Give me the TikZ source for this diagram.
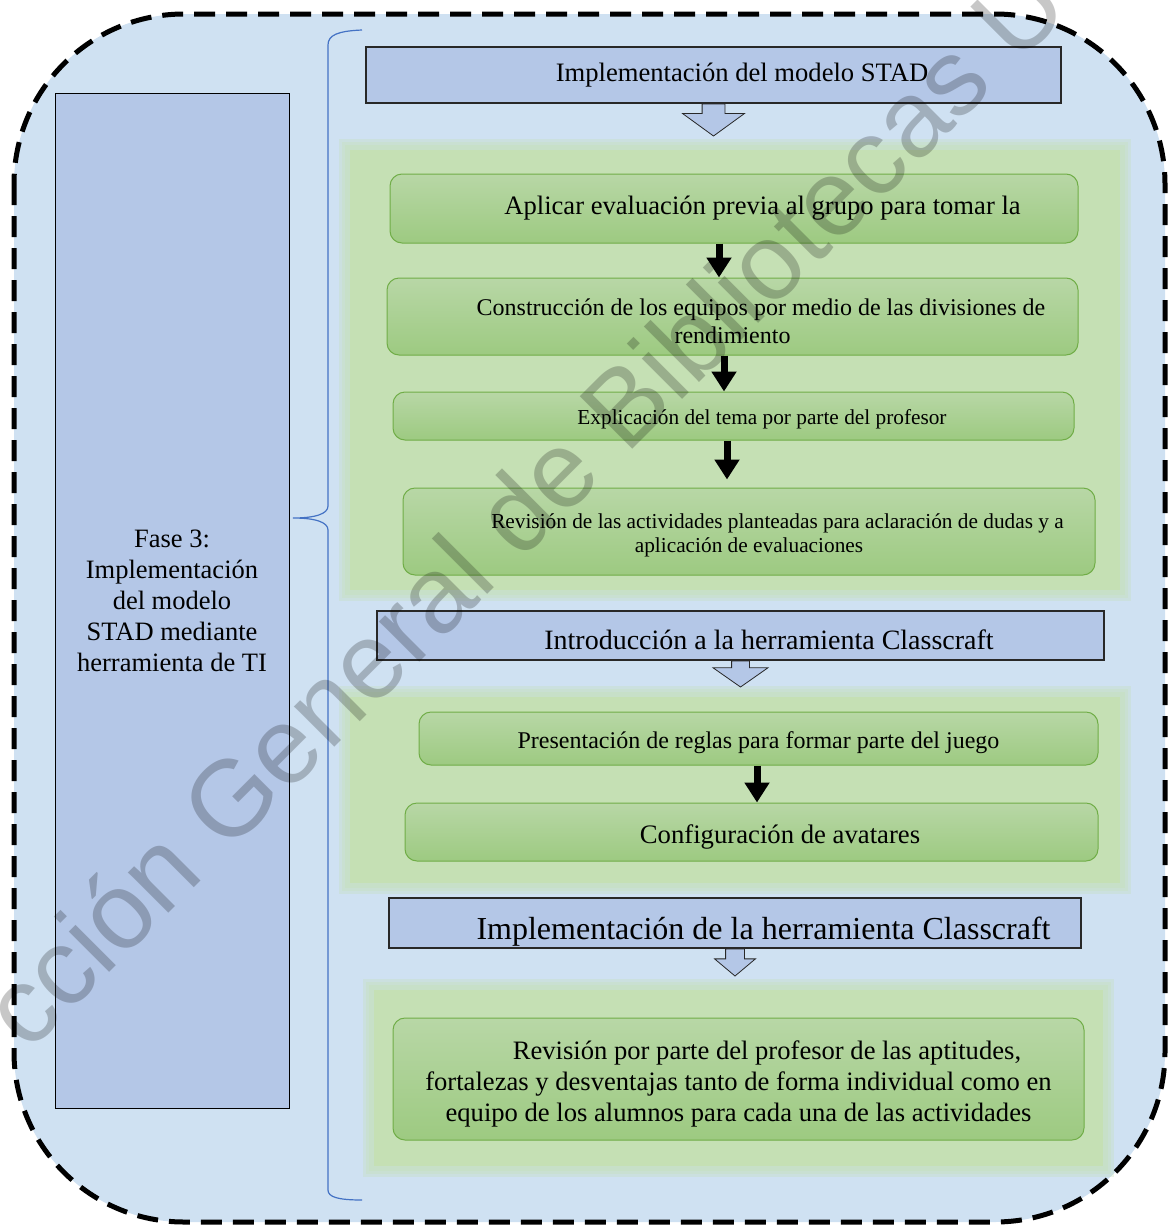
\documentclass[tikz,border=0pt]{standalone}
\usepackage{fontspec}
\setmainfont{Liberation Serif}
\newfontfamily\wmfont{Liberation Sans}
\usetikzlibrary{shapes}
\usetikzlibrary{positioning}
\usetikzlibrary{arrows.meta}
\definecolor{bgblue}{RGB}{207,225,242}
\definecolor{hdrblue}{RGB}{180,199,231}
\definecolor{hdrline}{RGB}{40,40,40}
\definecolor{panelgreen}{RGB}{197,224,180}
\definecolor{greentop}{RGB}{184,215,166}
\definecolor{greenbot}{RGB}{157,202,129}
\definecolor{greenline}{RGB}{112,173,71}
\definecolor{braceblue}{RGB}{68,114,196}
\newcommand{\firstind}{\hspace*{57pt}}
\newcommand{\sink}[1]{\rule{0pt}{#1em}}
\tikzset{
    mynodeb/.style = {rectangle, draw=hdrline, line width=1.2pt, fill=hdrblue, align=center, inner sep=0pt, text=black},
    mynodef/.style = {rectangle, draw=black, line width=0.8pt, fill=hdrblue, align=center, inner sep=0pt, text=black},
    mynodeg/.style = {rectangle, rounded corners=12pt, draw=greenline, line width=1pt, top color=greentop, bottom color=greenbot, align=center, inner sep=0pt, text=black},
    arrowb/.style = {single arrow, rotate=-90, draw=hdrline, line width=0.8pt, fill=hdrblue, inner xsep=0pt, single arrow head indent=0pt, anchor=tail},
    edgek/.style = {-{Triangle[width=24pt,length=20pt]}, line width=7pt, black},
    wallb/.style = {line width=5pt, dash pattern=on 21pt off 11pt, fill=bgblue, rounded corners=170pt},
    braceb/.style = {line width=1.2pt, braceblue},
    fsz/.style args = {#1/#2}{font=\fontsize{#1}{#2}\selectfont}
}

\begin{document}
\begin{tikzpicture}[x=1pt, y=-1pt]
  \useasboundingbox (0,0) rectangle (1173,1229);
  % frame
  \draw[wallb] (14,14) rectangle (1165,1222);
  % brace
  \draw[braceb] (362,30) .. controls (338,31) and (328,35) .. (328,45) -- (328,506)
    .. controls (328,514) and (315,518) .. (293,518)
    .. controls (315,518) and (328,522) .. (328,530) -- (328,1190)
    .. controls (328,1197) and (338,1200) .. (362,1200);
  % soft green panels
  \foreach \xa/\ya/\xb/\yb in {348/148/1122/592, 348/695/1122/885, 372/988/1105/1168} {
    \foreach \g in {9,6,3} {
      \fill[panelgreen, opacity=0.3] (\xa-\g,\ya-\g) rectangle (\xb+\g,\yb+\g);
    }
    \fill[panelgreen] (\xa+2,\ya+2) rectangle (\xb-2,\yb-2);
  }

  \node[mynodef, fsz=26.5/31, minimum width=234pt, minimum height=1015pt] (fase) at (172,600.5)
    {Fase 3:\\Implementación\\del modelo\\STAD mediante\\herramienta de TI};

  % headers
  \node[mynodeb, fsz=26.6/31, minimum width=695pt, minimum height=56pt] (h1) at (713.5,75)
    {\firstind Implementación del modelo STAD};
  \node[arrowb, inner ysep=11pt, single arrow head extend=19.5pt, single arrow tip angle=108, minimum height=32pt] (ah1) at (h1.south) {};

  \node[mynodeb, fsz=28/32, minimum width=727pt, minimum height=49pt] (h2) at (740.5,635.5)
    {\firstind\sink{0.98}Introducción a la herramienta Classcraft};
  \node[arrowb, inner ysep=8.5pt, single arrow head extend=18.5pt, single arrow tip angle=110, minimum height=26pt] (ah2) at (h2.south) {};

  \node[mynodeb, fsz=32/36, minimum width=692pt, minimum height=50pt] (h3) at (735,923)
    {\firstind\sink{1.25}Implementación de la herramienta Classcraft};
  \node[arrowb, inner ysep=9pt, single arrow head extend=11pt, single arrow tip angle=100, minimum height=27pt] (ah3) at (h3.south) {};

  % steps
  \node[mynodeg, fsz=26.6/31, minimum width=688pt, minimum height=69pt] (b1) at (734,208.5)
    {\firstind Aplicar evaluación previa al grupo para tomar la};
  \node[mynodeg, fsz=24/28, minimum width=691pt, minimum height=77pt] (b2) at (732.5,316.5)
    {\firstind\sink{1.11}Construcción de los equipos por medio de las divisiones de\\rendimiento};
  \node[mynodeg, fsz=21.3/24, minimum width=681pt, minimum height=48pt] (b3) at (733.5,416)
    {\firstind\sink{0.97}Explicación del tema por parte del profesor};
  \node[mynodeg, fsz=21.3/24, minimum width=692pt, minimum height=87pt] (b4) at (749,531.5)
    {\firstind\sink{1.07}Revisión de las actividades planteadas para aclaración de dudas y a\\aplicación de evaluaciones};

  \node[mynodeg, fsz=24/28, minimum width=679pt, minimum height=53pt] (b5) at (758.5,738.5)
    {\sink{1.02}Presentación de reglas para formar parte del juego};
  \node[mynodeg, fsz=26.7/31, minimum width=693pt, minimum height=58pt] (b6) at (751.5,832)
    {\firstind\sink{1.06}Configuración de avatares};

  \node[mynodeg, fsz=26.6/31, minimum width=691pt, minimum height=122pt] (b7) at (738.5,1079)
    {\firstind\sink{1.07}Revisión por parte del profesor de las aptitudes,\\fortalezas y desventajas tanto de forma individual como en\\equipo de los alumnos para cada una de las actividades};

  % flow
  \draw[edgek] (b1.south -| 719,0) -- (b2.north -| 719,0);
  \draw[edgek] (b2.south -| 724,0) -- (b3.north -| 724,0);
  \draw[edgek, shorten >=8pt] (b3.south -| 727,0) -- (b4.north -| 727,0);
  \draw[edgek] (b5.south -| 757,0) -- (b6.north -| 757,0);

  % watermark
  \node[rotate=45, anchor=base west, inner sep=0pt, font=\wmfont\fontsize{108}{108}\selectfont, text=black, text opacity=0.22] (wm) at (28,1054)
    {cción General de Bibliotecas U};
\end{tikzpicture}
\end{document}
